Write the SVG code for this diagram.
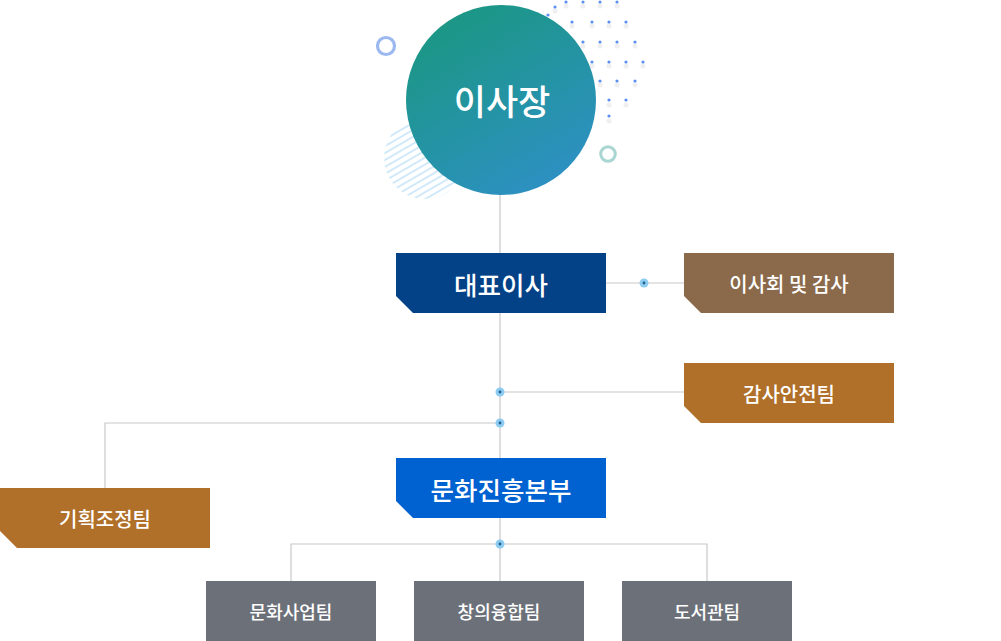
<svg xmlns="http://www.w3.org/2000/svg" width="1001" height="641" viewBox="0 0 1001 641">
<defs>
<linearGradient id="gCeo" x1="0.2" y1="0" x2="0.8" y2="1">
<stop offset="0" stop-color="#1a9780"/>
<stop offset="1" stop-color="#2e90c6"/>
</linearGradient>
<pattern id="hatch" patternUnits="userSpaceOnUse" width="6" height="6" patternTransform="rotate(-30)">
<line x1="0" y1="1" x2="6" y2="1" stroke="#cce7f8" stroke-width="1.8"/>
</pattern>
<clipPath id="hc"><circle cx="425" cy="158" r="41"/></clipPath>
<g id="dot"><circle r="1.6" fill="#5b90f2"/></g>
<g id="jn"><circle r="4.5" fill="#8ecbf0"/><circle r="1.4" fill="#1f5f8e"/></g>
</defs>
<style>
.ln{stroke:#c8c8c8;stroke-width:1.2;fill:none}
.t{font-family:"Noto Sans CJK KR","Noto Sans",sans-serif;fill:#fff;text-anchor:middle;dominant-baseline:central;font-weight:500}
.sh{fill:#000;opacity:0.06}
</style>
<rect width="1001" height="641" fill="#fff"/>
<g id="decor">
<rect x="380" y="115" width="90" height="90" fill="url(#hatch)" clip-path="url(#hc)"/>
<circle cx="386" cy="46" r="8.5" fill="none" stroke="#9bb8ef" stroke-width="3.2"/>
<circle cx="608" cy="154" r="7.3" fill="none" stroke="#a9d6d2" stroke-width="3"/>
<g id="dots">
<g class="sh">
<circle cx="566" cy="6" r="2.5"/><circle cx="583" cy="6" r="2.5"/><circle cx="600" cy="6" r="2.5"/><circle cx="617" cy="6" r="2.5"/>
<circle cx="555" cy="11" r="2.5"/><circle cx="572" cy="26" r="2.5"/><circle cx="592" cy="26" r="2.5"/><circle cx="609" cy="26" r="2.5"/><circle cx="626" cy="26" r="2.5"/>
<circle cx="583" cy="46" r="2.5"/><circle cx="600" cy="46" r="2.5"/><circle cx="617" cy="46" r="2.5"/><circle cx="635" cy="46" r="2.5"/>
<circle cx="592" cy="66" r="2.5"/><circle cx="609" cy="66" r="2.5"/><circle cx="626" cy="66" r="2.5"/><circle cx="643" cy="66" r="2.5"/>
<circle cx="600" cy="85" r="2.5"/><circle cx="617" cy="85" r="2.5"/><circle cx="635" cy="85" r="2.5"/>
<circle cx="609" cy="105" r="2.5"/><circle cx="626" cy="105" r="2.5"/><circle cx="609" cy="121" r="2.5"/>
</g>
<use href="#dot" x="566" y="2"/><use href="#dot" x="583" y="2"/><use href="#dot" x="600" y="2"/><use href="#dot" x="617" y="2"/>
<use href="#dot" x="555" y="7"/><use href="#dot" x="548" y="15"/>
<use href="#dot" x="572" y="22"/><use href="#dot" x="592" y="22"/><use href="#dot" x="609" y="22"/><use href="#dot" x="626" y="22"/>
<use href="#dot" x="583" y="42"/><use href="#dot" x="600" y="42"/><use href="#dot" x="617" y="42"/><use href="#dot" x="635" y="42"/>
<use href="#dot" x="592" y="62"/><use href="#dot" x="609" y="62"/><use href="#dot" x="626" y="62"/><use href="#dot" x="643" y="62"/>
<use href="#dot" x="600" y="81"/><use href="#dot" x="617" y="81"/><use href="#dot" x="635" y="81"/>
<use href="#dot" x="609" y="100"/><use href="#dot" x="626" y="100"/>
<use href="#dot" x="609" y="116"/>
</g>
</g>
<g id="connectors">
<path class="ln" d="M500 195V581"/>
<path class="ln" d="M606 283H684"/>
<path class="ln" d="M500 392H684"/>
<path class="ln" d="M500 423H105V488"/>
<path class="ln" d="M291 581V544H707V581"/>
<use href="#jn" x="644" y="283"/>
<use href="#jn" x="500" y="392"/>
<use href="#jn" x="500" y="423"/>
<use href="#jn" x="500" y="544"/>
</g>
<g id="ceo">
<circle cx="501" cy="100" r="95" fill="url(#gCeo)"/>
<text class="t" x="502" y="99" font-size="35">이사장</text>
</g>
<g id="president">
<path d="M396 253H606V313H413L396 296Z" fill="#044288"/>
<text class="t" x="501" y="283" font-size="25.5">대표이사</text>
</g>
<g id="board">
<path d="M684 253H894V313H701L684 296Z" fill="#8a6a4a"/>
<text class="t" x="789" y="283" font-size="20">이사회 및 감사</text>
</g>
<g id="audit">
<path d="M684 363H894V423H701L684 406Z" fill="#b0702a"/>
<text class="t" x="789" y="393" font-size="20">감사안전팀</text>
</g>
<g id="planning">
<path d="M0 488H210V548H17L0 531Z" fill="#b0702a"/>
<text class="t" x="105" y="518" font-size="20">기획조정팀</text>
</g>
<g id="culture-hq">
<path d="M396 458H606V518H413L396 501Z" fill="#0062d1"/>
<text class="t" x="501" y="488" font-size="25.5">문화진흥본부</text>
</g>
<g id="team1">
<rect x="206" y="581" width="170" height="60" fill="#6c7179"/>
<text class="t" x="291" y="611" font-size="18">문화사업팀</text>
</g>
<g id="team2">
<rect x="414" y="581" width="170" height="60" fill="#6c7179"/>
<text class="t" x="499" y="611" font-size="18">창의융합팀</text>
</g>
<g id="team3">
<rect x="622" y="581" width="170" height="60" fill="#6c7179"/>
<text class="t" x="707" y="611" font-size="18">도서관팀</text>
</g>
</svg>
